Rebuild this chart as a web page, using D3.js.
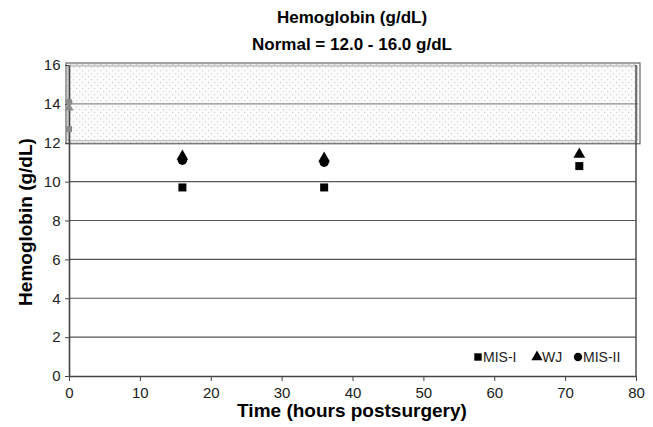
<!DOCTYPE html>
<html lang="en">
<head>
    <meta charset="UTF-8">
    <title>Hemoglobin</title>
    <script src="https://d3js.org/d3.v7.min.js"></script>
    <style>
        body { margin: 0; background: #fff; }
        svg { font-family: "Liberation Sans", Arial, sans-serif; }
    </style>
</head>
<body>
    <svg width="653" height="427"></svg>

    <script>
        // data
        const hours = [16, 36, 72];
        const misI = [9.7, 9.7, 10.8];
        const wj = [11.3, 11.2, 11.4];
        const misII = [11.1, 11.0, null];
        // preop values at time 0, shown faded behind the normal band
        const preop = [
            { t: 0, v: 12.7, s: "square" },
            { t: 0, v: 13.8, s: "triangle" },
            { t: 0, v: 14.1, s: "circle" }
        ];
        const normalRange = [12, 16];
        const xTicks = [0, 10, 20, 30, 40, 50, 60, 70, 80];
        const yTicks = [0, 2, 4, 6, 8, 10, 12, 14, 16];

        const svg = d3.select("svg");
        const mLeft = 69, mRight = 636, mTop = 65, mBottom = 376;

        const x = d3.scaleLinear().domain([0, 80]).range([mLeft, mRight]);
        const y = d3.scaleLinear().domain([0, 16]).range([mBottom, mTop]);

        const symType = s => s === "square" ? d3.symbolSquare : s === "triangle" ? d3.symbolTriangle : d3.symbolCircle;

        // dotted pattern for the normal range
        const defs = svg.append("defs");
        const pat = defs.append("pattern")
            .attr("id", "dots")
            .attr("patternUnits", "userSpaceOnUse")
            .attr("width", 6).attr("height", 6);
        pat.append("rect").attr("width", 6).attr("height", 6).attr("fill", "#fafafa");
        pat.append("rect").attr("x", 1).attr("y", 1).attr("width", 1.2).attr("height", 1.2).attr("fill", "#c8c8c8");
        pat.append("rect").attr("x", 4).attr("y", 4).attr("width", 1.2).attr("height", 1.2).attr("fill", "#c8c8c8");

        // gridlines
        svg.append("g").selectAll("line")
            .data(yTicks.filter(d => d > 0))
            .join("line")
            .attr("x1", mLeft).attr("x2", mRight)
            .attr("y1", d => y(d)).attr("y2", d => y(d))
            .attr("stroke", "#555").attr("stroke-width", 1.2);

        // normal band
        svg.append("rect")
            .attr("x", mLeft - 3).attr("y", y(normalRange[1]) - 2)
            .attr("width", mRight - mLeft + 7)
            .attr("height", y(normalRange[0]) - y(normalRange[1]) + 3)
            .attr("fill", "url(#dots)").attr("fill-opacity", 0.8)
            .attr("stroke", "#666").attr("stroke-width", 1.2);
        svg.append("rect")
            .attr("x", mLeft - 1).attr("y", y(normalRange[1]) + 1)
            .attr("width", mRight - mLeft + 2)
            .attr("height", y(normalRange[0]) - y(normalRange[1]) - 3)
            .attr("fill", "none")
            .attr("stroke", "#aaa").attr("stroke-width", 1);
        svg.append("line")
            .attr("x1", mLeft).attr("x2", mRight + 2)
            .attr("y1", y(14)).attr("y2", y(14))
            .attr("stroke", "#888").attr("stroke-width", 1);

        // axes
        const xAxis = svg.append("g")
            .attr("transform", `translate(0,${mBottom})`)
            .call(d3.axisBottom(x).tickValues(xTicks).tickSize(5).tickSizeOuter(0));
        const yAxis = svg.append("g")
            .attr("transform", `translate(${mLeft},0)`)
            .call(d3.axisLeft(y).tickValues(yTicks).tickSize(4).tickSizeOuter(0));
        [xAxis, yAxis].forEach(a => {
            a.select(".domain").attr("stroke", "#444").attr("stroke-width", 1.6);
            a.selectAll(".tick line").attr("stroke", "#444");
            a.selectAll("text").attr("font-size", 15).attr("fill", "#222");
        });
        xAxis.selectAll("text").attr("dy", "0.95em");
        yAxis.selectAll("text").attr("dx", "-0.1em");

        // preop markers, faded, sitting on the y axis
        svg.append("g").selectAll("path")
            .data(preop)
            .join("path")
            .attr("d", d => d3.symbol().type(symType(d.s)).size(36)())
            .attr("transform", d => `translate(${x(d.t)},${y(d.v)})`)
            .attr("fill", "#8a8a8a");

        // right frame
        svg.append("line")
            .attr("x1", mRight).attr("x2", mRight)
            .attr("y1", mTop).attr("y2", mBottom)
            .attr("stroke", "#444").attr("stroke-width", 1.4);

        // series
        const series = [
            { name: "WJ", vals: wj, s: "triangle" },
            { name: "MIS-II", vals: misII, s: "circle" },
            { name: "MIS-I", vals: misI, s: "square" }
        ];
        const sizes = { square: 64, triangle: 60, circle: 70 };
        series.forEach(ser => {
            svg.append("g").selectAll("path")
                .data(hours.map((h, i) => ({ h, v: ser.vals[i] })).filter(d => d.v != null))
                .join("path")
                .attr("d", d3.symbol().type(symType(ser.s)).size(sizes[ser.s])())
                .attr("transform", d => `translate(${x(d.h)},${y(d.v)})`)
                .attr("fill", "#000");
        });

        // legend
        const legendItems = [
            { name: "MIS-I", s: "square", px: 478 },
            { name: "WJ", s: "triangle", px: 537 },
            { name: "MIS-II", s: "circle", px: 578 }
        ];
        const lg = svg.append("g").attr("transform", "translate(0,357)");
        legendItems.forEach(it => {
            lg.append("path")
                .attr("d", d3.symbol().type(symType(it.s)).size(55)())
                .attr("transform", `translate(${it.px},0)`)
                .attr("fill", "#000");
            lg.append("text")
                .attr("x", it.px + 5).attr("y", 5)
                .attr("font-size", 14).attr("fill", "#222")
                .text(it.name);
        });

        // titles
        svg.append("text")
            .attr("x", 352).attr("y", 23)
            .attr("text-anchor", "middle")
            .attr("font-size", 17).attr("font-weight", "bold")
            .text("Hemoglobin (g/dL)");
        svg.append("text")
            .attr("x", 352).attr("y", 50)
            .attr("text-anchor", "middle")
            .attr("font-size", 17).attr("font-weight", "bold")
            .text("Normal = 12.0 - 16.0 g/dL");
        svg.append("text")
            .attr("x", 352).attr("y", 417)
            .attr("text-anchor", "middle")
            .attr("font-size", 19).attr("font-weight", "bold")
            .text("Time (hours postsurgery)");
        svg.append("text")
            .attr("transform", "translate(32,222) rotate(-90)")
            .attr("text-anchor", "middle")
            .attr("font-size", 19).attr("font-weight", "bold")
            .text("Hemoglobin (g/dL)");
    </script>
</body>
</html>
